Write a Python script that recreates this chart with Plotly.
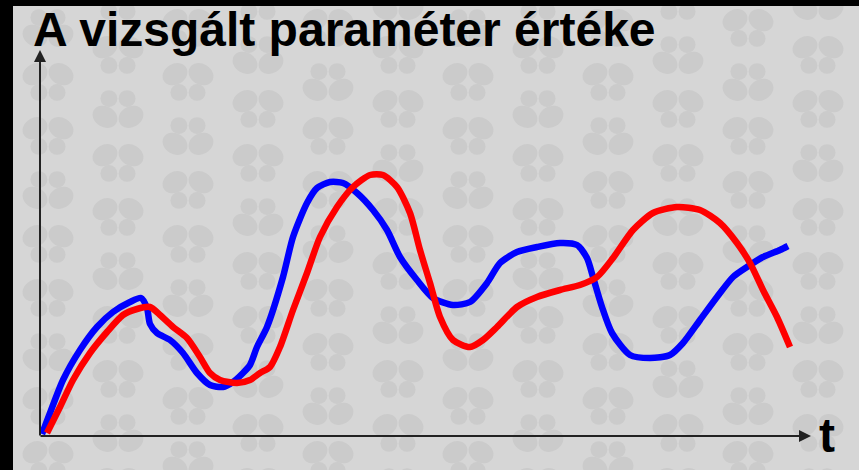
import base64
import plotly.graph_objects as go

# Curve samples: t (horizontal position) and value (height above the t axis)
blue_t = [42, 50, 63, 80, 97, 113, 130, 141, 147, 150, 157, 170, 183, 197, 210, 223, 233, 243, 250,
          257, 267, 283, 293, 307, 317, 330, 343, 357, 373, 387, 400, 417, 433, 453, 470, 487, 500,
          517, 537, 560, 577, 587, 593, 602, 612, 630, 650, 670, 683, 700, 717, 733, 747, 763, 780, 788]
blue_v = [2, 23, 56, 86, 109, 124, 134, 138, 128, 112, 103, 96, 83, 63, 51, 49, 54, 63, 71,
          89, 109, 159, 199, 233, 248, 254, 253, 243, 226, 206, 179, 156, 138, 131, 134, 153, 173,
          184, 189, 193, 191, 178, 159, 129, 103, 81, 78, 81, 93, 116, 139, 159, 169, 179, 186, 190]

red_t = [47, 60, 73, 90, 107, 123, 137, 150, 160, 173, 187, 200, 210, 220, 237, 250, 260, 270,
         280, 293, 307, 320, 337, 353, 370, 383, 397, 410, 420, 430, 440, 453, 470, 483, 497, 517,
         537, 560, 580, 597, 613, 633, 653, 677, 700, 720, 737, 750, 763, 777, 790]
red_v = [3, 29, 56, 83, 104, 121, 127, 129, 121, 109, 98, 79, 63, 56, 53, 56, 63, 69,
         89, 126, 163, 199, 229, 249, 261, 261, 249, 223, 186, 153, 119, 96, 89, 96, 109, 129,
         139, 146, 151, 159, 178, 206, 223, 229, 226, 213, 193, 173, 146, 119, 89]

title_text = "A vizsgált paraméter értéke"
axis_label = "t"

BG = "#d6d6d6"
MOTIF = "#cbcbcb"
FONT = "Liberation Sans, Arial, sans-serif"

# decorative butterfly wallpaper for the plot area (846 x 464 px)
W, H = 846, 464
uses = []
for r in range(-2, 20):
    for c in range(-1, 8):
        cx = 35 + c * 140 + (r % 2) * 70
        cy = 22 + r * 27
        flip = -1 if (r + 2 * c) % 3 == 0 else 1
        uses.append(f'<use href="#b" xlink:href="#b" '
                    f'transform="translate({cx},{cy}) scale(1.3,{1.3 * flip})"/>')
svg = (
    f'<svg xmlns="http://www.w3.org/2000/svg" xmlns:xlink="http://www.w3.org/1999/xlink" '
    f'width="{W}" height="{H}" viewBox="0 0 {W} {H}">'
    f'<defs><g id="b" fill="{MOTIF}">'
    '<ellipse cx="-10" cy="-6" rx="10" ry="8" transform="rotate(-30 -10 -6)"/>'
    '<ellipse cx="10" cy="-6" rx="10" ry="8" transform="rotate(30 10 -6)"/>'
    '<ellipse cx="-7" cy="8" rx="6.5" ry="6.5"/>'
    '<ellipse cx="7" cy="8" rx="6.5" ry="6.5"/>'
    '</g></defs>'
    f'<rect width="{W}" height="{H}" fill="{BG}"/>'
    + "".join(uses) + '</svg>'
)
wallpaper = "data:image/svg+xml;base64," + base64.b64encode(svg.encode()).decode()

fig = go.Figure()
fig.add_trace(go.Scatter(x=blue_t, y=blue_v, mode="lines",
                         line=dict(color="#0000ff", width=6.5, shape="spline", smoothing=0.7),
                         hoverinfo="skip"))
fig.add_trace(go.Scatter(x=red_t, y=red_v, mode="lines",
                         line=dict(color="#ff0000", width=6.5, shape="spline", smoothing=0.7),
                         hoverinfo="skip"))

# axis arrows
fig.add_annotation(x=40, y=386, ax=40, ay=-1, xref="x", yref="y", axref="x", ayref="y",
                   text="", showarrow=True, arrowhead=2, arrowsize=1.2, arrowwidth=2,
                   arrowcolor="#222222")
fig.add_annotation(x=811, y=0, ax=39, ay=0, xref="x", yref="y", axref="x", ayref="y",
                   text="", showarrow=True, arrowhead=2, arrowsize=1.2, arrowwidth=2,
                   arrowcolor="#222222")

fig.add_annotation(x=32, y=407, xref="x", yref="y", text="<b>" + title_text + "</b>",
                   showarrow=False, xanchor="left", yanchor="middle", borderpad=0,
                   font=dict(family=FONT, size=48, color="#000000"))
fig.add_annotation(x=818, y=1, xref="x", yref="y", text="<b>" + axis_label + "</b>",
                   showarrow=False, xanchor="left", yanchor="middle", borderpad=0,
                   font=dict(family=FONT, size=48, color="#000000"))

fig.add_layout_image(source=wallpaper, xref="paper", yref="paper", x=0, y=1,
                     sizex=1, sizey=1, sizing="stretch", xanchor="left", yanchor="top",
                     layer="below")

fig.update_layout(
    width=859, height=470,
    margin=dict(l=13, r=0, t=6, b=0),
    paper_bgcolor="#000000",
    plot_bgcolor=BG,
    showlegend=False,
    xaxis=dict(range=[13, 859], visible=False, fixedrange=True),
    yaxis=dict(range=[-34, 430], visible=False, fixedrange=True),
)

fig.write_html("out.html", config={"displayModeBar": False},
               post_script="document.body.style.margin='0';document.body.style.background='#000';")
